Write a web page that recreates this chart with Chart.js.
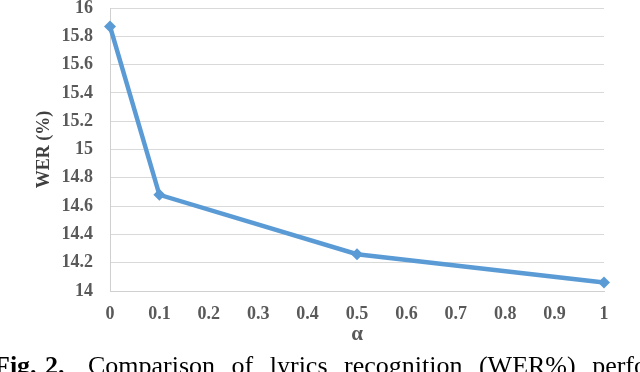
<!DOCTYPE html>
<html><head><meta charset="utf-8">
<script src="https://cdn.jsdelivr.net/npm/chart.js@4.4.0/dist/chart.umd.min.js"></script>
<style>
html,body{margin:0;padding:0;width:640px;height:372px;overflow:hidden;background:#fff;}
#wrap{position:relative;width:640px;height:372px;overflow:hidden;}
canvas{position:absolute;left:0;top:0;}
.cap{position:absolute;top:353px;font-family:"Liberation Serif";font-size:26px;line-height:26px;white-space:nowrap;color:#000;}
</style></head><body>
<div id="wrap"><canvas id="c" width="640" height="372"></canvas>
<div class="cap" style="left:-6px;font-weight:bold;word-spacing:2px">Fig. 2.</div>
<div class="cap" style="left:88px;word-spacing:10px">Comparison of lyrics recognition (WER%) performance</div>
</div>
<script>
const alphaValues = [0, 0.1, 0.5, 1];
const werValues = [15.87, 14.68, 14.26, 14.06];
const xTickValues = [0, 0.1, 0.2, 0.3, 0.4, 0.5, 0.6, 0.7, 0.8, 0.9, 1];
const xTickLabels = ['0', '0.1', '0.2', '0.3', '0.4', '0.5', '0.6', '0.7', '0.8', '0.9', '1'];
const yTickValues = [14, 14.2, 14.4, 14.6, 14.8, 15, 15.2, 15.4, 15.6, 15.8, 16];
const yTickLabels = ['14', '14.2', '14.4', '14.6', '14.8', '15', '15.2', '15.4', '15.6', '15.8', '16'];
const xTitle = 'α';
const yTitle = 'WER (%)';

const FAM = '"Liberation Serif", "Times New Roman", serif';
const LBL = '#595959';
const BLUE = '#5B9BD5';

function labelFor(values, labels, v) {
  let best = 0;
  for (let i = 0; i < values.length; i++) if (Math.abs(values[i] - v) < Math.abs(values[best] - v)) best = i;
  return labels[best];
}

new Chart(document.getElementById('c'), {
  type: 'line',
  data: {
    datasets: [{
      data: alphaValues.map((x, i) => ({x: x, y: werValues[i]})),
      borderColor: BLUE,
      backgroundColor: BLUE,
      borderWidth: 4.5,
      pointStyle: 'rectRot',
      pointRadius: 6,
      pointBorderWidth: 0,
      pointBackgroundColor: BLUE,
      tension: 0,
      clip: false
    }]
  },
  options: {
    responsive: false,
    animation: false,
    devicePixelRatio: 1,
    layout: {padding: {top: 8, right: 36, left: 0, bottom: 0}},
    plugins: {legend: {display: false}, tooltip: {enabled: false}},
    scales: {
      x: {
        type: 'linear', min: 0, max: 1,
        afterBuildTicks(axis) { axis.ticks = xTickValues.map(v => ({value: v})); },
        afterFit(axis) { axis.height = 81; axis.paddingLeft = 0; axis.paddingRight = 0; },
        ticks: {
          callback: (v) => labelFor(xTickValues, xTickLabels, v),
          font: {family: FAM, size: 18, weight: 'bold', lineHeight: 1},
          color: LBL, padding: 14, maxRotation: 0, autoSkip: false
        },
        grid: {display: false, drawTicks: false},
        border: {display: true, color: '#d0d0d0', width: 1},
        title: {display: true, text: xTitle, color: LBL,
          font: {family: FAM, size: 21, weight: 'bold', lineHeight: 1},
          padding: {top: 0, bottom: 27}}
      },
      y: {
        type: 'linear', min: 14, max: 16,
        afterBuildTicks(axis) { axis.ticks = yTickValues.map(v => ({value: v})); },
        afterFit(axis) { axis.width = 110; axis.paddingTop = 0; axis.paddingBottom = 0; },
        ticks: {
          callback: (v) => labelFor(yTickValues, yTickLabels, v),
          font: {family: FAM, size: 18, weight: 'bold', lineHeight: 1},
          color: LBL, padding: 17, autoSkip: false
        },
        grid: {color: '#d9d9d9', lineWidth: 1, drawTicks: false},
        border: {display: true, color: '#d0d0d0', width: 1},
        title: {display: true, text: yTitle, color: '#404040',
          font: {family: FAM, size: 18, weight: 'bold', lineHeight: 1},
          padding: {top: 35, bottom: 0}}
      }
    }
  }
});
</script>
</body></html>
